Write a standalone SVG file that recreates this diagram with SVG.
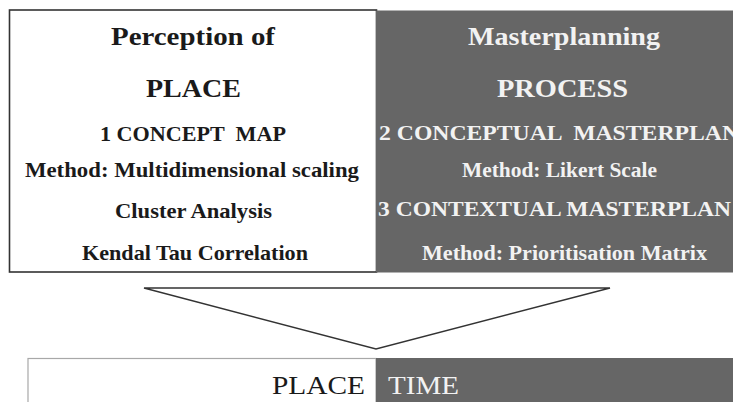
<svg xmlns="http://www.w3.org/2000/svg" width="733" height="402" viewBox="0 0 733 402">
  <style>
    .bold { font-family: "Liberation Serif", "Times New Roman", serif; font-weight: bold; white-space: pre; }
    .reg { font-family: "Liberation Serif", "Times New Roman", serif; font-weight: normal; white-space: pre; }
    .title { font-size: 26px; }
    .line { font-size: 21px; }
    .dark-text { fill: #1a1a1a; }
    .light-text { fill: #f2f2f2; }
    .dark-fill { fill: #666666; }
    .edge { fill: none; stroke: #333333; stroke-width: 1.6; }
  </style>
  <rect width="733" height="402" fill="#ffffff"/>

  <!-- Place panel -->
  <g id="place-panel">
    <rect x="9.5" y="10" width="367" height="262" fill="#ffffff" class="edge"/>
    <text class="bold title dark-text" x="111" y="45" textLength="164" lengthAdjust="spacingAndGlyphs">Perception of</text>
    <text class="bold title dark-text" x="146" y="97" textLength="95" lengthAdjust="spacingAndGlyphs">PLACE</text>
    <text class="bold line dark-text" x="100" y="141" textLength="186" lengthAdjust="spacingAndGlyphs">1 CONCEPT  MAP</text>
    <text class="bold line dark-text" x="25" y="177" textLength="334" lengthAdjust="spacingAndGlyphs">Method: Multidimensional scaling</text>
    <text class="bold line dark-text" x="115" y="218" textLength="157" lengthAdjust="spacingAndGlyphs">Cluster Analysis</text>
    <text class="bold line dark-text" x="82" y="260" textLength="226" lengthAdjust="spacingAndGlyphs">Kendal Tau Correlation</text>
  </g>

  <!-- Process panel -->
  <g id="process-panel">
    <rect x="376" y="10.5" width="357" height="262" class="dark-fill"/>
    <text class="bold title light-text" x="468" y="45" textLength="192" lengthAdjust="spacingAndGlyphs">Masterplanning</text>
    <text class="bold title light-text" x="497" y="97" textLength="131" lengthAdjust="spacingAndGlyphs">PROCESS</text>
    <text class="bold line light-text" x="379" y="140" textLength="360" lengthAdjust="spacingAndGlyphs">2 CONCEPTUAL  MASTERPLAN</text>
    <text class="bold line light-text" x="462" y="177" textLength="195" lengthAdjust="spacingAndGlyphs">Method: Likert Scale</text>
    <text class="bold line light-text" x="378" y="216" textLength="353" lengthAdjust="spacingAndGlyphs">3 CONTEXTUAL MASTERPLAN</text>
    <text class="bold line light-text" x="422" y="260" textLength="285" lengthAdjust="spacingAndGlyphs">Method: Prioritisation Matrix</text>
  </g>

  <!-- Funnel joining both panels into the result bar -->
  <g id="connectors">
    <polygon points="144,288 610,288 376,349" fill="#ffffff" stroke="#333333" stroke-width="1.4" stroke-linejoin="miter"/>
  </g>

  <!-- Result bar -->
  <g id="result-bar">
    <rect x="28" y="358.5" width="348" height="50" fill="#ffffff" stroke="#a8a8a8" stroke-width="1.2"/>
    <rect x="376" y="358" width="357" height="44" class="dark-fill"/>
    <text class="reg dark-text" x="365" y="394" font-size="25" text-anchor="end" textLength="93" lengthAdjust="spacingAndGlyphs">PLACE</text>
    <text class="reg light-text" x="388" y="394" font-size="25" textLength="71" lengthAdjust="spacingAndGlyphs">TIME</text>
  </g>
</svg>
